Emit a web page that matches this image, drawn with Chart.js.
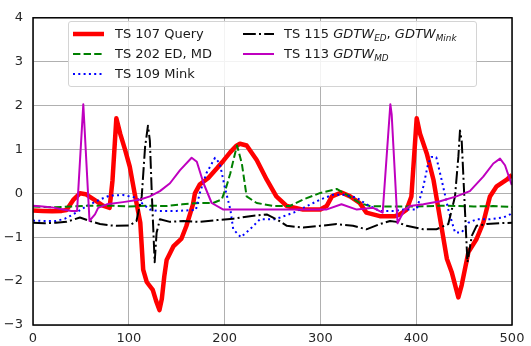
<!DOCTYPE html>
<html>
<head>
<meta charset="utf-8">
<script src="https://cdn.jsdelivr.net/npm/chart.js@4/dist/chart.umd.min.js"></script>
<style>
  html, body { margin: 0; padding: 0; background: #fff; }
  #wrap { position: relative; width: 531px; height: 346px; font-family: "DejaVu Sans", sans-serif; }
  #legend {
    position: absolute; left: 68px; top: 21px; width: 407px; height: 64px;
    border: 1px solid #d4d4d4; border-radius: 3px; background: rgba(255,255,255,0.85);
    font-size: 13px; color: #1a1a1a;
  }
  .item { position: absolute; height: 20px; line-height: 20px; white-space: nowrap; }
  .item svg { position: absolute; top: 0; left: 0; }
  .item span { position: absolute; top: 0; }
  sub { font-size: 68%; vertical-align: -0.35em; line-height: 0; }
</style>
</head>
<body>
<div id="wrap">
  <canvas id="chart" width="531" height="346"></canvas>
  <div id="legend">
    <div class="item" style="left:4px;top:2px">
      <svg width="32" height="20"><line x1="0" y1="10" x2="31" y2="10" stroke="#ff0000" stroke-width="4.5"/></svg>
      <span style="left:42px">TS 107 Query</span>
    </div>
    <div class="item" style="left:4px;top:22px">
      <svg width="32" height="20"><line x1="0" y1="10" x2="31" y2="10" stroke="#008000" stroke-width="2" stroke-dasharray="7.4 3.2"/></svg>
      <span style="left:42px">TS 202 ED, MD</span>
    </div>
    <div class="item" style="left:4px;top:42px">
      <svg width="32" height="20"><line x1="0" y1="10" x2="31" y2="10" stroke="#0000ff" stroke-width="2" stroke-dasharray="2 3.3"/></svg>
      <span style="left:42px">TS 109 Mink</span>
    </div>
    <div class="item" style="left:174px;top:2px">
      <svg width="32" height="20"><line x1="0" y1="10" x2="31" y2="10" stroke="#000000" stroke-width="2" stroke-dasharray="12.8 3.2 2 3.2"/></svg>
      <span style="left:41px">TS 115 <i>GDTW<sub>ED</sub></i>, <i>GDTW<sub>Mink</sub></i></span>
    </div>
    <div class="item" style="left:174px;top:22px">
      <svg width="32" height="20"><line x1="0" y1="10" x2="31" y2="10" stroke="#bf00bf" stroke-width="2"/></svg>
      <span style="left:41px">TS 113 <i>GDTW<sub>MD</sub></i></span>
    </div>
  </div>
</div>
<script>
// values
const queryX = [0, 10, 20, 30, 35, 42, 49, 55, 63, 73, 80, 83, 87, 91, 96, 101, 106, 112, 115, 118.7, 125, 128.5, 132, 134.5, 137, 139.5, 146.5, 155, 160, 167, 169, 174, 183, 192, 199, 206, 212, 216, 223, 233.5, 244, 254, 265, 282, 300, 306.5, 312, 322, 331, 341, 348, 362, 378, 383, 390, 395, 400.5, 404, 411, 418, 425, 432, 437, 444, 447.5, 454.5, 463, 470, 477, 484, 494.5, 500];
const queryY = [-0.39, -0.4, -0.41, -0.4, -0.38, -0.15, 0.0, -0.02, -0.13, -0.28, -0.33, 0.3, 1.71, 1.36, 1.0, 0.61, 0.01, -0.67, -1.74, -2.02, -2.2, -2.45, -2.66, -2.4, -1.9, -1.52, -1.21, -1.03, -0.75, -0.25, 0.0, 0.2, 0.35, 0.57, 0.75, 0.94, 1.08, 1.13, 1.09, 0.76, 0.31, -0.07, -0.29, -0.37, -0.37, -0.29, -0.07, 0.02, -0.07, -0.22, -0.44, -0.52, -0.52, -0.48, -0.37, -0.07, 1.71, 1.36, 0.91, 0.31, -0.59, -1.49, -1.79, -2.37, -2.09, -1.34, -1.04, -0.67, -0.07, 0.16, 0.31, 0.42];

const edX = [0, 20, 40, 60, 80, 100, 120, 139, 156, 174, 188, 197, 202, 206, 210, 213, 218, 223, 233.5, 252, 268, 282, 300, 317, 327.5, 341, 351.5, 370, 400, 430, 460, 480, 500];
const edY = [-0.3, -0.32, -0.3, -0.28, -0.28, -0.3, -0.28, -0.29, -0.25, -0.22, -0.22, -0.14, 0.16, 0.46, 0.83, 1.09, 0.68, -0.07, -0.22, -0.29, -0.29, -0.14, 0.01, 0.1, -0.03, -0.22, -0.29, -0.3, -0.3, -0.28, -0.3, -0.29, -0.31];

const minkX = [0, 12, 24, 33, 42, 56, 70, 80, 94, 108, 115, 122, 130, 150, 170, 174, 181, 190, 195, 200, 206, 209, 217, 226.5, 237, 252, 258, 272, 286, 300, 313.5, 324, 338, 348, 362, 378, 387, 400.5, 407.5, 412.5, 416, 421, 426.5, 433.5, 440.5, 447.5, 454.5, 463, 477, 491, 498, 500];
const minkY = [-0.62, -0.63, -0.63, -0.58, -0.48, -0.29, -0.14, -0.05, -0.04, -0.1, -0.25, -0.37, -0.4, -0.4, -0.38, 0.0, 0.46, 0.81, 0.68, 0.16, -0.37, -0.82, -1.0, -0.82, -0.59, -0.59, -0.55, -0.44, -0.29, -0.14, -0.03, -0.03, -0.1, -0.25, -0.4, -0.4, -0.37, -0.37, 0.16, 0.68, 0.83, 0.82, 0.31, -0.37, -0.89, -0.89, -0.67, -0.59, -0.59, -0.55, -0.48, -0.45];

const gdtwX = [0, 12, 24, 35, 42, 49, 59.5, 70, 80, 87, 101, 108, 113.5, 117, 120, 122, 124, 127, 129, 132.5, 143, 157, 174, 192, 209, 226.5, 244, 255, 265, 282, 300, 317, 334, 348, 362, 372.7, 379.5, 390, 407.5, 421, 433.5, 440.5, 444, 445.7, 447.5, 451, 453.5, 458, 463, 473.5, 487.5, 500];
const gdtwY = [-0.67, -0.68, -0.67, -0.65, -0.6, -0.55, -0.63, -0.7, -0.73, -0.74, -0.73, -0.63, -0.07, 1.06, 1.54, 1.2, 0.0, -1.57, -0.9, -0.59, -0.65, -0.63, -0.65, -0.61, -0.58, -0.52, -0.48, -0.6, -0.74, -0.78, -0.74, -0.7, -0.74, -0.82, -0.7, -0.63, -0.65, -0.74, -0.82, -0.82, -0.7, -0.07, 0.83, 1.43, 1.2, -0.44, -1.57, -0.97, -0.74, -0.7, -0.68, -0.67];

const mdX = [0, 10, 20, 31.6, 40, 46, 52.5, 59, 62, 64.7, 68, 77, 94, 112, 122, 132.5, 143, 153.5, 165.6, 171, 178, 186.5, 198.7, 218, 252, 280, 306, 322, 338, 355, 365, 373, 374.4, 380.5, 388, 393.5, 407.5, 425, 442, 456, 470, 480.5, 487.5, 492.7, 499.7];
const mdY = [-0.28, -0.3, -0.32, -0.37, -0.4, -0.4, 2.03, -0.63, -0.55, -0.48, -0.33, -0.25, -0.2, -0.14, -0.07, 0.05, 0.23, 0.53, 0.81, 0.72, 0.23, -0.22, -0.37, -0.37, -0.37, -0.37, -0.37, -0.25, -0.37, -0.33, -0.44, 2.03, 1.8, -0.68, -0.37, -0.29, -0.25, -0.18, -0.07, 0.05, 0.38, 0.68, 0.79, 0.64, 0.19];

const xTicks = [0, 100, 200, 300, 400, 500];
const yTicks = [-3, -2, -1, 0, 1, 2, 3, 4];

const pts = (xs, ys) => xs.map((x, i) => ({ x: x, y: ys[i] }));

// black frame round the plot area, on top of the lines
const frame = {
  id: 'frame',
  afterDatasetsDraw(chart) {
    const a = chart.chartArea, c = chart.ctx;
    c.save();
    c.strokeStyle = '#000';
    c.lineWidth = 1.5;
    c.strokeRect(a.left, a.top, a.right - a.left, a.bottom - a.top);
    c.restore();
  }
};

new Chart(document.getElementById('chart'), {
  type: 'line',
  data: {
    datasets: [
      { data: pts(queryX, queryY), borderColor: '#ff0000', borderWidth: 4.5, order: 5 },
      { data: pts(edX, edY), borderColor: '#008000', borderWidth: 2, borderDash: [7.4, 3.2], order: 4 },
      { data: pts(minkX, minkY), borderColor: '#0000ff', borderWidth: 2, borderDash: [2, 3.3], order: 3 },
      { data: pts(gdtwX, gdtwY), borderColor: '#000000', borderWidth: 2, borderDash: [12.8, 3.2, 2, 3.2], order: 2 },
      { data: pts(mdX, mdY), borderColor: '#bf00bf', borderWidth: 2, order: 1 }
    ]
  },
  options: {
    responsive: false,
    animation: false,
    layout: { padding: { top: 14, right: 19, left: 0, bottom: 0 } },
    elements: { point: { radius: 0 }, line: { tension: 0, fill: false, borderJoinStyle: 'round' } },
    plugins: { legend: { display: false }, tooltip: { enabled: false } },
    scales: {
      x: {
        type: 'linear', min: 0, max: 500,
        afterBuildTicks: s => { s.ticks = xTicks.map(v => ({ value: v })); },
        afterFit: s => { s.height = 21; },
        ticks: { padding: 6, color: '#262626', font: { family: 'DejaVu Sans', size: 13 } },
        grid: { color: '#b0b0b0', lineWidth: 1, drawTicks: false },
        border: { display: false }
      },
      y: {
        min: -3, max: 4,
        afterBuildTicks: s => { s.ticks = yTicks.map(v => ({ value: v })); },
        afterFit: s => { s.width = 33; },
        ticks: {
          padding: 10, color: '#262626', font: { family: 'DejaVu Sans', size: 13 },
          callback: v => String(v).replace('-', '\u2212')
        },
        grid: { color: '#b0b0b0', lineWidth: 1, drawTicks: false },
        border: { display: false }
      }
    }
  },
  plugins: [frame]
});
</script>
</body>
</html>
